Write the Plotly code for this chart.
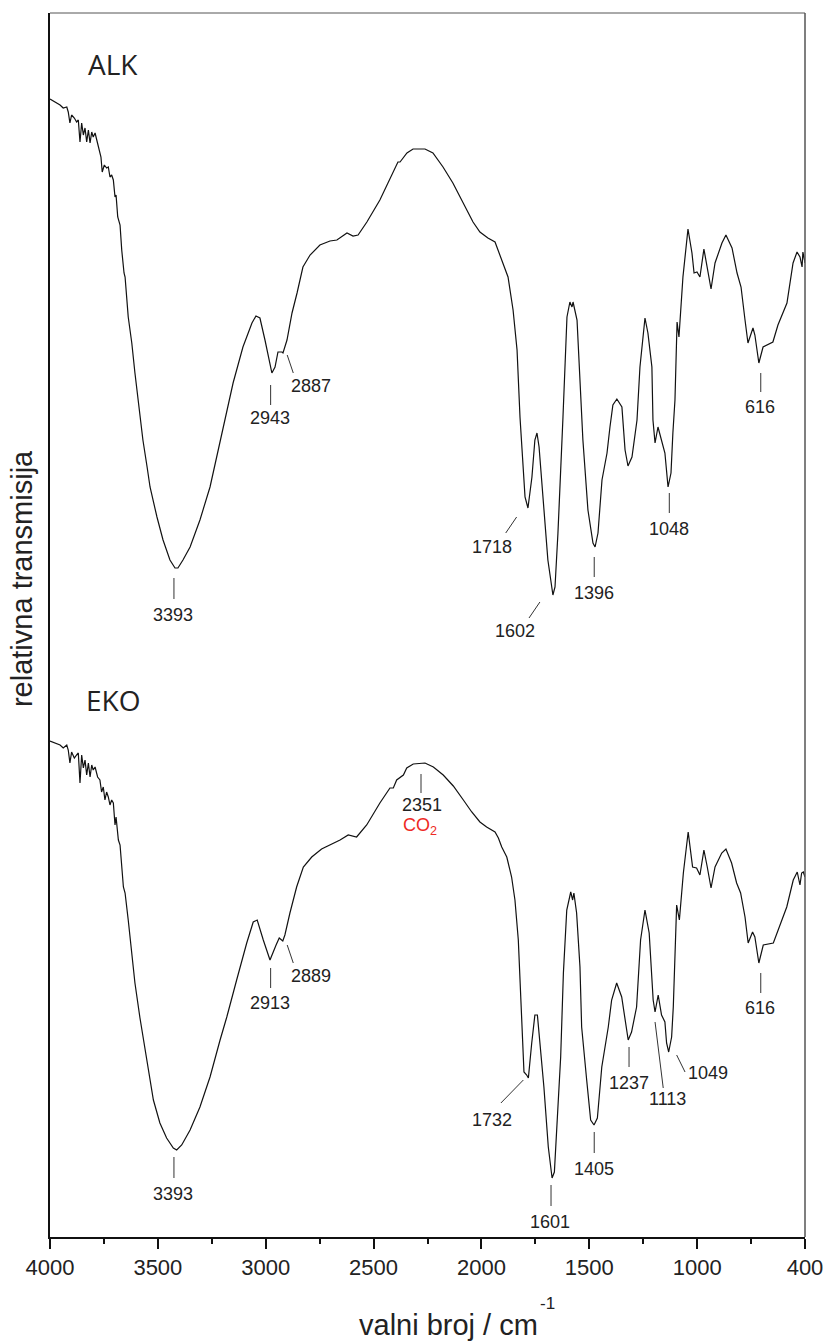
import numpy as np
import plotly.graph_objects as go

# ---------------- data (wavenumber in cm^-1, relative transmission in arbitrary units) ----------------
alk_wn = [4000, 3976, 3952, 3937, 3920, 3913, 3905, 3897, 3884, 3873,
          3865, 3857, 3849, 3841, 3833, 3825, 3817, 3809, 3801, 3794,
          3785, 3777, 3766, 3757, 3751, 3741, 3730, 3722, 3714, 3706,
          3698, 3690, 3685, 3677,
          3666, 3658, 3647, 3642, 3627,
          3610, 3595, 3579, 3557, 3537, 3523, 3490, 3461, 3428, 3404,
          3390, 3366, 3332, 3285, 3237, 3189, 3127, 3080, 3037, 3018,
          2999, 2975, 2942, 2927, 2913, 2894, 2889, 2870, 2846, 2822,
          2794, 2760, 2713, 2665, 2632, 2584, 2555, 2531, 2489, 2427,
          2365, 2341, 2331, 2298, 2269, 2212, 2174, 2126, 2079, 2031,
          1983, 1950, 1912, 1878, 1864, 1840, 1816, 1792, 1773, 1759,
          1750, 1735, 1721, 1702, 1688, 1678, 1668, 1649, 1626, 1602,
          1592, 1578, 1559, 1554, 1535, 1521, 1511, 1506, 1487, 1463,
          1459, 1435, 1411, 1401, 1387, 1368, 1344, 1330, 1316, 1297,
          1273, 1258, 1244, 1225, 1201, 1187, 1163, 1149, 1130, 1125,
          1115, 1101, 1082, 1068, 1053, 1039, 1030, 1020, 1010, 1001,
          982, 958, 939, 929, 915, 901, 882, 867, 848, 829,
          796, 777, 748, 724, 705, 686, 672, 648, 639, 620,
          600, 553, 529, 486, 457, 438, 424, 414, 410, 400]
alk_t = [113.8, 113.5, 113.2, 112.9, 113.0, 112.5, 111.4, 112.2, 111.9, 111.5,
         111.7, 109.5, 111.4, 110.2, 110.9, 109.5, 110.7, 109.4, 110.5, 110.0,
         110.4, 109.7, 108.7, 108.0, 106.5, 107.2, 106.9, 107.0, 106.0, 106.2,
         105.7, 104.0, 104.2, 102.0,
         101.2, 98.7, 96.4, 96.0, 92.0,
         89.4, 86.4, 83.7, 79.7, 77.0, 75.0, 72.0, 69.7, 67.7, 66.9,
         66.9, 67.7, 69.0, 71.7, 75.0, 79.4, 85.4, 89.0, 91.4, 92.1,
         91.9, 89.7, 86.4, 87.0, 88.5, 88.5, 88.4, 89.7, 92.4, 94.4,
         97.0, 98.2, 99.2, 99.6, 99.7, 100.4, 100.1, 100.2, 101.5, 103.7,
         106.4, 107.5, 107.5, 108.4, 108.8, 108.8, 108.4, 107.0, 105.4, 103.4,
         101.5, 100.5, 99.9, 99.5, 98.7, 97.4, 96.0, 92.7, 88.7, 82.0,
         78.7, 74.0, 72.9, 76.0, 79.7, 80.4, 79.0, 73.7, 67.7, 64.2,
         65.0, 70.4, 78.7, 82.0, 92.0, 93.5, 93.0, 93.5, 91.7, 82.0,
         79.7, 72.7, 69.4, 69.0, 70.4, 75.7, 78.4, 81.0, 83.2, 83.8,
         83.0, 78.7, 77.1, 78.0, 81.7, 87.0, 91.9, 90.4, 87.0, 81.7,
         79.4, 81.0, 79.4, 78.4, 75.0, 76.4, 80.4, 83.7, 91.5, 90.0,
         96.0, 100.8, 98.4, 96.4, 96.5, 96.0, 98.8, 97.0, 94.8, 97.4,
         99.4, 100.2, 98.9, 96.4, 95.0, 91.7, 89.4, 90.9, 90.2, 87.4,
         89.0, 89.5, 91.2, 93.4, 97.4, 98.5, 98.0, 97.0, 98.5, 97.4]

eko_wn = [4000, 3976, 3952, 3937, 3920, 3913, 3905, 3897, 3884, 3873,
          3865, 3857, 3849, 3841, 3833, 3825, 3817, 3809, 3801, 3794,
          3785, 3773, 3762, 3754, 3746, 3738, 3730, 3722, 3714, 3706,
          3698, 3690, 3685, 3674, 3666,
          3650, 3642, 3627, 3610, 3595,
          3571, 3552, 3531, 3507, 3476, 3444, 3412, 3396, 3372, 3332,
          3285, 3237, 3189, 3157, 3110, 3062, 3031, 3012, 2983, 2951,
          2922, 2907, 2890, 2880, 2856, 2824, 2792, 2752, 2705, 2657,
          2617, 2578, 2538, 2490, 2427, 2379, 2363, 2347, 2315, 2299,
          2268, 2212, 2172, 2125, 2077, 2029, 1989, 1950, 1918, 1878,
          1862, 1846, 1822, 1799, 1783, 1767, 1756, 1746, 1740, 1727,
          1719, 1703, 1688, 1676, 1664, 1645, 1624, 1606, 1595, 1581,
          1565, 1552, 1536, 1517, 1508, 1502, 1489, 1473, 1465, 1441,
          1422, 1406, 1390, 1369, 1354, 1338, 1322, 1298, 1274, 1258,
          1243, 1227, 1203, 1184, 1163, 1143, 1124, 1115, 1100, 1084,
          1068, 1060, 1050, 1036, 1028, 1012, 999, 980, 957, 936,
          917, 901, 882, 866, 848, 829, 797, 777, 750, 726,
          707, 686, 671, 650, 639, 620, 599, 551, 527, 487,
          456, 437, 424, 416, 408, 400]
eko_t = [49.6, 49.4, 49.2, 48.9, 49.2, 48.7, 47.4, 48.5, 47.9, 48.2,
         48.4, 45.4, 48.2, 46.9, 47.7, 46.2, 47.4, 46.0, 47.2, 46.7,
         47.0, 46.0, 45.7, 44.5, 45.0, 43.7, 44.5, 44.0, 43.2, 43.7,
         43.4, 41.2, 42.0, 39.7, 39.2,
         35.0, 34.4, 31.7, 28.4, 25.4,
         21.9, 19.4, 16.4, 13.7, 11.4, 9.9, 8.9, 8.7, 9.2, 10.7,
         13.0, 16.0, 19.7, 22.0, 25.7, 29.4, 31.5, 31.7, 29.7, 27.7,
         29.2, 29.9, 29.6, 30.2, 32.4, 35.0, 37.0, 38.0, 38.8, 39.3,
         39.7, 40.2, 40.0, 41.2, 43.4, 44.9, 44.9, 45.7, 46.2, 46.9,
         47.3, 47.4, 47.0, 46.2, 45.1, 43.7, 42.5, 41.5, 41.0, 40.5,
         39.9, 39.0, 38.0, 36.0, 33.7, 29.7, 23.7, 18.7, 16.5, 16.2,
         15.9, 19.4, 22.2, 22.2, 19.7, 15.0, 9.0, 5.9, 6.5, 12.0,
         18.0, 26.4, 32.7, 34.5, 33.7, 34.4, 32.4, 27.0, 21.0, 15.7,
         11.7, 11.2, 11.9, 17.0, 19.0, 21.0, 23.7, 25.4, 24.0, 21.7,
         19.7, 20.5, 23.0, 29.7, 32.7, 30.4, 23.7, 22.5, 24.2, 22.2,
         21.5, 19.4, 18.5, 20.0, 23.0, 33.2, 31.7, 36.4, 40.5, 37.0,
         36.9, 36.2, 38.7, 37.0, 34.9, 37.0, 38.4, 38.8, 37.4, 35.4,
         34.4, 32.0, 29.4, 30.5, 30.0, 27.4, 29.2, 29.4, 30.7, 33.0,
         35.7, 36.5, 35.2, 36.4, 36.5, 36.0]

tick_labels = ["4000", "3500", "3000", "2500", "2000", "1500", "1000", "400"]

# peak labels: text, leader (x0, y0, x1, y1), label centre (x, y) in data units
alk_peaks = [
    ("2943", 2948, 85.2, 2948, 83.2, 2951, 81.9),
    ("2887", 2869, 88.2, 2840, 86.4, 2756, 85.1),
    ("3393", 3409, 65.9, 3409, 63.8, 3414, 62.2),
    ("1718", 1775, 72.0, 1827, 70.4, 1894, 69.0),
    ("1602", 1664, 63.5, 1716, 61.9, 1783, 60.6),
    ("1396", 1405, 68.0, 1405, 66.0, 1405, 64.4),
    ("1048", 1047, 74.4, 1047, 72.4, 1047, 70.8),
    ("616", 611, 86.4, 611, 84.5, 615, 83.0),
]
eko_peaks = [
    ("2351", 2231, 46.3, 2231, 44.4, 2228, 43.2),
    ("2913", 2948, 26.9, 2948, 24.9, 2951, 23.4),
    ("2889", 2869, 29.2, 2840, 27.4, 2756, 26.1),
    ("3393", 3409, 8.0, 3409, 5.9, 3414, 4.3),
    ("1732", 1743, 15.7, 1850, 13.4, 1894, 11.7),
    ("1601", 1611, 5.2, 1611, 3.1, 1616, 1.5),
    ("1405", 1405, 10.5, 1405, 8.4, 1405, 6.8),
    ("1237", 1239, 19.0, 1239, 17.0, 1241, 15.4),
    ("1113", 1115, 21.5, 1076, 14.9, 1055, 13.8),
    ("1049", 1012, 18.2, 972, 16.5, 861, 16.4),
    ("616", 611, 26.4, 611, 24.4, 615, 22.9),
]
co2_label = ("CO<sub>2</sub>", 2236, 41.1)

assert len(alk_wn) == len(alk_t), (len(alk_wn), len(alk_t))
assert len(eko_wn) == len(eko_t), (len(eko_wn), len(eko_t))

# ---------------- figure ----------------
X_RANGE = [4000, 400]
Y_RANGE = [0, 122.4]
tickvals = np.linspace(X_RANGE[0], X_RANGE[1], len(tick_labels))
minorvals = (tickvals[:-1] + tickvals[1:]) / 2

TXT = "#222222"
NUMFONT = "Liberation Sans, Arial, sans-serif"

fig = go.Figure()
fig.add_trace(go.Scatter(x=alk_wn, y=alk_t, mode="lines", name="ALK",
                         line=dict(color="#111111", width=1.2), showlegend=False))
fig.add_trace(go.Scatter(x=eko_wn, y=eko_t, mode="lines", name="EKO",
                         line=dict(color="#111111", width=1.2), showlegend=False))

for text, x0, y0, x1, y1, tx, ty in alk_peaks + eko_peaks:
    fig.add_shape(type="line", xref="x", yref="y", x0=x0, y0=y0, x1=x1, y1=y1,
                  line=dict(color="#333333", width=1))
    fig.add_annotation(x=tx, y=ty, xref="x", yref="y", text=text, showarrow=False,
                       xanchor="center", yanchor="middle",
                       font=dict(family=NUMFONT, size=18, color=TXT))

fig.add_annotation(x=co2_label[1], y=co2_label[2], xref="x", yref="y", text=co2_label[0],
                   showarrow=False, xanchor="center", yanchor="middle",
                   font=dict(family=NUMFONT, size=18, color="#ee2a24"))

# sample names
for name, py in (("ALK", 0.958), ("EKO", 0.4387)):
    fig.add_annotation(x=0.084, y=py, xref="paper", yref="paper", text=name, showarrow=False,
                       xanchor="center", yanchor="middle",
                       font=dict(family="Open Sans, sans-serif", size=28, color=TXT))

# axis titles
fig.add_annotation(x=0.528, y=-0.072, xref="paper", yref="paper", text="valni broj / cm",
                   showarrow=False, xanchor="center", yanchor="middle",
                   font=dict(family=NUMFONT, size=29, color=TXT))
fig.add_annotation(x=0.659, y=-0.054, xref="paper", yref="paper", text="-1",
                   showarrow=False, xanchor="center", yanchor="middle",
                   font=dict(family=NUMFONT, size=17, color=TXT))
fig.add_annotation(x=-0.037, y=0.5376, xref="paper", yref="paper", text="relativna transmisija",
                   showarrow=False, xanchor="center", yanchor="middle", textangle=-90,
                   font=dict(family=NUMFONT, size=29, color=TXT))

# top and right frame (grey, thin)
fig.add_shape(type="line", xref="paper", yref="paper", x0=0, y0=1, x1=1, y1=1,
              line=dict(color="#555555", width=1))
fig.add_shape(type="line", xref="paper", yref="paper", x0=1, y0=0, x1=1, y1=1,
              line=dict(color="#555555", width=1.5))

fig.update_xaxes(range=X_RANGE, autorange=False, automargin=False, showgrid=False, zeroline=False,
                 showline=True, linecolor="#111111", linewidth=1.5,
                 tickmode="array", tickvals=tickvals, ticktext=tick_labels,
                 ticks="outside", ticklen=10, tickwidth=1.5, tickcolor="#111111",
                 tickfont=dict(family=NUMFONT, size=22, color=TXT),
                 minor=dict(tickmode="array", tickvals=minorvals, ticks="outside",
                            ticklen=5, tickwidth=1.5, tickcolor="#111111", showgrid=False))
fig.update_yaxes(range=Y_RANGE, autorange=False, automargin=False, showgrid=False, zeroline=False,
                 showline=True, linecolor="#111111", linewidth=1.5,
                 showticklabels=False, ticks="")

fig.update_layout(width=829, height=1344, margin=dict(l=50, r=24, t=13, b=107, autoexpand=False),
                  paper_bgcolor="white", plot_bgcolor="white", showlegend=False)

fig.write_html("out.html", config={"displayModeBar": False},
               post_script="document.body.style.margin='0px';document.body.style.overflow='hidden';")
